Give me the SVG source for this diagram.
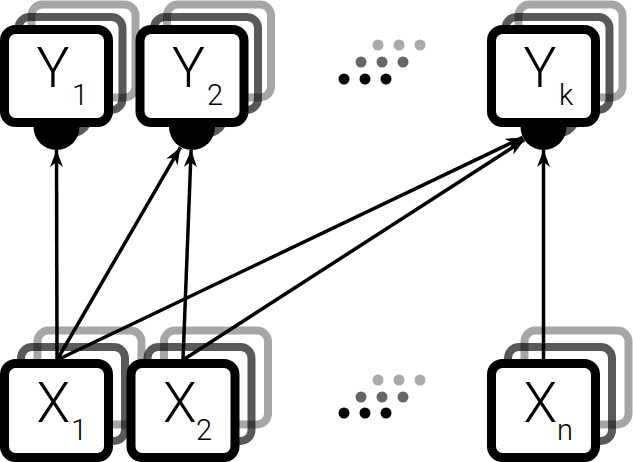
<svg xmlns="http://www.w3.org/2000/svg" width="633" height="462" viewBox="0 0 633 462">
<defs>
<style>
.front{fill:#fff;stroke:#000;stroke-width:9}
.dark{fill:none;stroke:#000;stroke-opacity:0.65;stroke-width:8}
.light{fill:none;stroke:#000;stroke-opacity:0.35;stroke-width:8}
.blob{fill:#000}
.blobd{fill:#000;fill-opacity:0.65}
.lbl{font-family:Roboto,"Liberation Sans",sans-serif;font-weight:300;fill:#000}
.big{font-size:55px}
.sub{font-size:29px}
.edge{stroke:#000;stroke-width:3.5;fill:none;marker-end:url(#arr)}
</style>
<marker id="arr" viewBox="0 0 17 13" refX="17" refY="6.5" markerWidth="17" markerHeight="13" orient="auto" markerUnits="userSpaceOnUse">
<path d="M0,0 L17,6.5 L0,13 L5,6.5 Z" fill="#000"/>
</marker>
<path id="blobshape" d="M-23,118 V127 A23,23 0 0 0 23,127 V118 Z"/>
</defs>

<g id="Y1">
<rect class="light" x="31.5" y="4.5" width="104" height="93" rx="11"/>
<rect class="dark" x="18.5" y="17" width="104" height="93" rx="11"/>
<use href="#blobshape" class="blobd" x="70.5" y="-12.5"/>
<use href="#blobshape" class="blob" x="56.5" y="0"/>
<rect class="front" x="4.5" y="29.5" width="104" height="93" rx="11"/>
<text class="lbl big" x="36.5" y="87">Y</text>
<text class="lbl sub" x="72" y="105">1</text>
</g>

<g id="Y2">
<rect class="light" x="167" y="4.5" width="104" height="93" rx="11"/>
<rect class="dark" x="154" y="17" width="104" height="93" rx="11"/>
<use href="#blobshape" class="blobd" x="206" y="-12.5"/>
<use href="#blobshape" class="blob" x="192" y="0"/>
<rect class="front" x="140" y="29.5" width="104" height="93" rx="11"/>
<text class="lbl big" x="172" y="87">Y</text>
<text class="lbl sub" x="207" y="105">2</text>
</g>

<g id="Yk">
<rect class="light" x="518.5" y="4.5" width="104" height="93" rx="11"/>
<rect class="dark" x="505.5" y="17" width="104" height="93" rx="11"/>
<use href="#blobshape" class="blobd" x="557.5" y="-12.5"/>
<use href="#blobshape" class="blob" x="543.5" y="0"/>
<rect class="front" x="491.5" y="29.5" width="104" height="93" rx="11"/>
<text class="lbl big" x="523.5" y="87">Y</text>
<text class="lbl sub" x="559" y="105">k</text>
</g>

<g id="X1">
<rect class="light" x="37.5" y="330.5" width="104" height="94" rx="11"/>
<rect class="dark" x="21" y="347" width="104" height="94" rx="11"/>
<rect class="front" x="4.5" y="363.5" width="104" height="94" rx="11"/>
<text class="lbl big" x="36.5" y="422">X</text>
<text class="lbl sub" x="71" y="440">1</text>
</g>

<g id="X2">
<rect class="light" x="164" y="330.5" width="104" height="94" rx="11"/>
<rect class="dark" x="147.5" y="347" width="104" height="94" rx="11"/>
<rect class="front" x="131" y="363.5" width="104" height="94" rx="11"/>
<text class="lbl big" x="163" y="422">X</text>
<text class="lbl sub" x="196" y="440">2</text>
</g>

<g id="Xn">
<rect class="light" x="524.5" y="330.5" width="104" height="94" rx="11"/>
<rect class="dark" x="508" y="347" width="104" height="94" rx="11"/>
<rect class="front" x="491.5" y="363.5" width="104" height="94" rx="11"/>
<text class="lbl big" x="523.5" y="422">X</text>
<text class="lbl sub" x="557" y="440">n</text>
</g>

<g id="ellipsis-top">
<circle cx="378" cy="45" r="5.5" fill="#aaa"/>
<circle cx="399" cy="45" r="5.5" fill="#aaa"/>
<circle cx="420" cy="45" r="5.5" fill="#aaa"/>
<circle cx="361" cy="62" r="5.5" fill="#666"/>
<circle cx="382" cy="62" r="5.5" fill="#666"/>
<circle cx="403" cy="62" r="5.5" fill="#666"/>
<circle cx="344" cy="79" r="5.5" fill="#000"/>
<circle cx="365" cy="79" r="5.5" fill="#000"/>
<circle cx="386" cy="79" r="5.5" fill="#000"/>
</g>

<g id="ellipsis-bottom">
<circle cx="378" cy="380" r="5.5" fill="#aaa"/>
<circle cx="399" cy="380" r="5.5" fill="#aaa"/>
<circle cx="420" cy="380" r="5.5" fill="#aaa"/>
<circle cx="361" cy="397" r="5.5" fill="#666"/>
<circle cx="382" cy="397" r="5.5" fill="#666"/>
<circle cx="403" cy="397" r="5.5" fill="#666"/>
<circle cx="344" cy="413" r="5.5" fill="#000"/>
<circle cx="365" cy="413" r="5.5" fill="#000"/>
<circle cx="386" cy="413" r="5.5" fill="#000"/>
</g>

<g id="connectors">
<line class="edge" x1="57" y1="360" x2="56.5" y2="150"/>
<line class="edge" x1="57" y1="360" x2="180.4" y2="147.4"/>
<line class="edge" x1="57" y1="360" x2="522.7" y2="137.4"/>
<line class="edge" x1="183" y1="360" x2="191.1" y2="150"/>
<line class="edge" x1="183" y1="360" x2="524.2" y2="139.9"/>
<line class="edge" x1="543.5" y1="360" x2="543.5" y2="150"/>
</g>
</svg>
